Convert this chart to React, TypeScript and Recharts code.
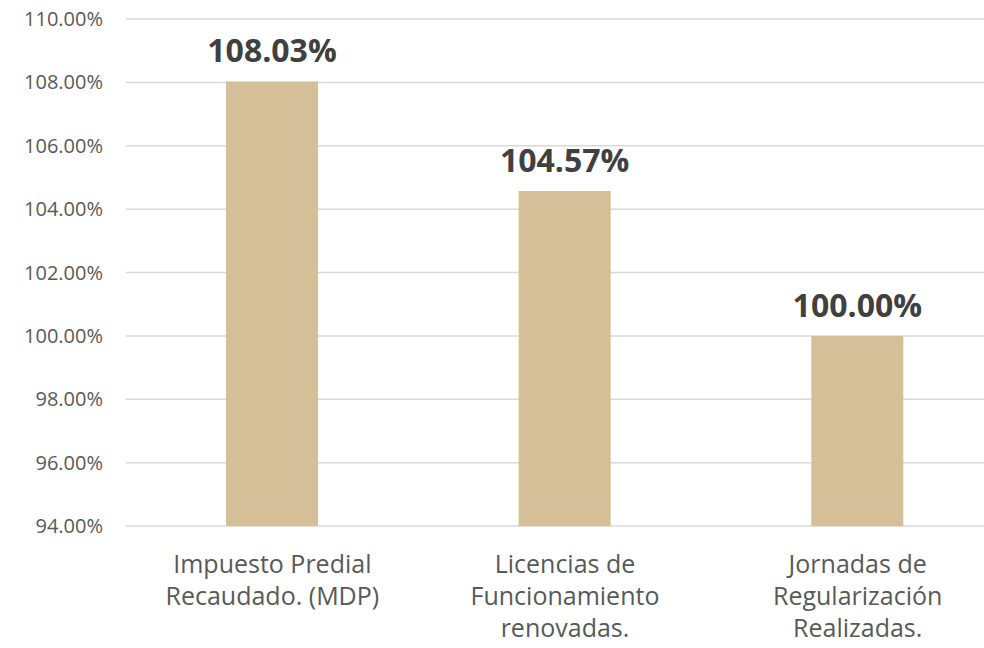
import React from "react";
import { BarChart, Bar, XAxis, YAxis, CartesianGrid, LabelList } from "recharts";

const categories = [
  "Impuesto Predial\nRecaudado. (MDP)",
  "Licencias de\nFuncionamiento\nrenovadas.",
  "Jornadas de\nRegularización\nRealizadas.",
];
const values = [108.03, 104.57, 100.0];
const yTicks = [94, 96, 98, 100, 102, 104, 106, 108, 110];

const data = categories.map((c, i) => ({ name: c, value: values[i] }));

const FONT = "'Open Sans', sans-serif";

const XTick = (props: any) => {
  const { x, payload } = props;
  const lines = String(payload.value).split("\n");
  return (
    <g transform={`translate(${x},526)`}>
      {lines.map((l: string, i: number) => (
        <text
          key={i}
          x={0}
          y={47 + i * 32}
          textAnchor="middle"
          fill="#595959"
          fontSize={25}
          fontFamily={FONT}
        >
          {l}
        </text>
      ))}
    </g>
  );
};

const TopLabel = (props: any) => {
  const { x, y, width, value } = props;
  return (
    <text
      x={x + width / 2}
      y={y - 19}
      textAnchor="middle"
      fill="#404040"
      fontSize={32}
      fontWeight="bold"
      fontFamily={FONT}
    >
      {Number(value).toFixed(2) + "%"}
    </text>
  );
};

export default function App() {
  return (
    <div
      style={{
        position: "absolute",
        left: 0,
        top: 0,
        width: 984,
        height: 648,
        overflow: "hidden",
        background: "#fff",
      }}
    >
      <BarChart
        width={1010}
        height={648}
        data={data}
        margin={{ top: 19, right: 6, left: 0, bottom: 0 }}
        barSize={92}
      >
        <CartesianGrid vertical={false} stroke="#D9D9D9" strokeWidth={1.5} />
        <XAxis
          dataKey="name"
          height={122}
          axisLine={false}
          tickLine={false}
          interval={0}
          tick={<XTick />}
        />
        <YAxis
          width={126}
          domain={[94, 110]}
          ticks={yTicks}
          axisLine={false}
          tickLine={false}
          tickSize={0}
          tickMargin={23}
          tick={{ fill: "#595959", fontSize: 20, fontFamily: FONT }}
          tickFormatter={(v: number) => v.toFixed(2) + "%"}
        />
        <Bar dataKey="value" fill="#D4BF98" isAnimationActive={false}>
          <LabelList dataKey="value" content={<TopLabel />} />
        </Bar>
      </BarChart>
    </div>
  );
}
